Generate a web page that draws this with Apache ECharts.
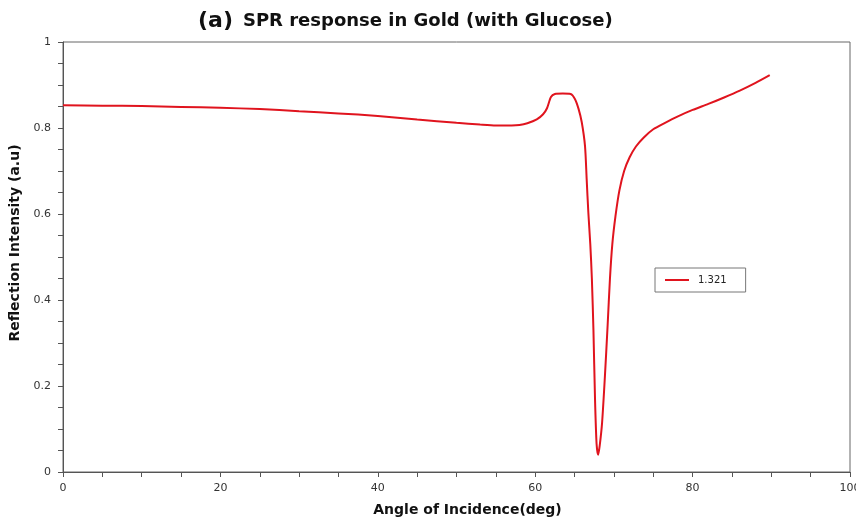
<!DOCTYPE html>
<html><head><meta charset="utf-8">
<script src="https://cdn.jsdelivr.net/npm/echarts@6/dist/echarts.min.js"></script>
<style>html,body{margin:0;padding:0;background:#fff}#c{width:856px;height:523px}</style>
</head><body><div id="c"></div>
<script>
const angles = [0,5,10,15,20,25,30,35,40,45,50,53,55,57,58,59,60.2,61.0,61.5,62.0,62.5,63.5,64.5,65.06,65.5,65.91,66.33,66.54,66.75,67.0,67.2,67.4,67.6,67.8,68.0,68.2,68.5,68.85,69.2,69.5,69.8,70.2,70.7,71.3,72.0,72.8,73.8,75,76.5,78,80,82,84,86,88,89.8];
const intensity = [0.853,0.852,0.851,0.849,0.847,0.844,0.839,0.834,0.828,0.820,0.812,0.808,0.806,0.806,0.807,0.811,0.820,0.832,0.846,0.872,0.879,0.880,0.879,0.867,0.845,0.814,0.758,0.681,0.604,0.530,0.450,0.330,0.170,0.065,0.040,0.062,0.115,0.220,0.340,0.450,0.530,0.595,0.655,0.700,0.732,0.757,0.778,0.797,0.812,0.826,0.842,0.856,0.871,0.887,0.905,0.923];
const seriesName = '1.321';
const panelLabel = '(a)';
const titleText = 'SPR response in Gold (with Glucose)';
const xTicks = [0,20,40,60,80,100];
const yTicks = [0,0.2,0.4,0.6,0.8,1];

const chart = echarts.init(document.getElementById('c'));
const data = angles.map((a,i)=>[a,intensity[i]]);
chart.setOption({
  backgroundColor:'#fff',
  animation:false,
  title:{
    text:'{a|'+panelLabel+'}  {b|'+titleText+'}',
    left:193, top:5,
    textStyle:{rich:{
      a:{fontFamily:'DejaVu Sans',fontSize:22,color:'#111'},
      b:{fontFamily:'DejaVu Sans',fontWeight:'bold',fontSize:18,color:'#111'}
    }}
  },
  legend:{
    data:[seriesName], left:655, top:268,
    padding:[7,19,7,10], itemWidth:24, itemHeight:2, itemGap:10,
    borderColor:'#777', borderWidth:1, backgroundColor:'#fff',
    textStyle:{fontFamily:'DejaVu Sans',fontSize:10,color:'#222',padding:[0,0,0,4]},
    icon:'rect'
  },
  grid:{left:63,right:6,top:42,bottom:51,show:true,borderColor:'#666',borderWidth:1,outerBoundsMode:'none',containLabel:false},
  xAxis:{
    type:'value', min:xTicks[0], max:xTicks[xTicks.length-1], interval:20,
    name:'Angle of Incidence(deg)', nameLocation:'middle', nameGap:31,
    nameTextStyle:{fontFamily:'DejaVu Sans',fontWeight:'bold',fontSize:14,color:'#111',padding:[0,0,0,22]},
    axisLine:{lineStyle:{color:'#555'}},
    axisTick:{length:5,lineStyle:{color:'#555'}},
    minorTick:{show:true,splitNumber:4,length:5,lineStyle:{color:'#555'}},
    axisLabel:{fontFamily:'DejaVu Sans',fontSize:11,color:'#333',margin:11},
    splitLine:{show:false}
  },
  yAxis:{
    type:'value', min:yTicks[0], max:yTicks[yTicks.length-1], interval:0.2,
    name:'Reflection Intensity (a.u)', nameLocation:'middle', nameGap:40,
    nameTextStyle:{fontFamily:'DejaVu Sans',fontWeight:'bold',fontSize:14,color:'#111',padding:[0,0,0,28]},
    axisLine:{show:true,lineStyle:{color:'#555'}},
    axisTick:{show:true,length:5,lineStyle:{color:'#555'}},
    minorTick:{show:true,splitNumber:4,length:5,lineStyle:{color:'#555'}},
    axisLabel:{fontFamily:'DejaVu Sans',fontSize:11,color:'#333',margin:12},
    splitLine:{show:false}
  },
  series:[{
    name:seriesName, type:'line', data:data, smooth:0.25, showSymbol:false,
    lineStyle:{color:'#e0141e',width:2}, itemStyle:{color:'#e0141e'}
  }]
});
</script></body></html>
